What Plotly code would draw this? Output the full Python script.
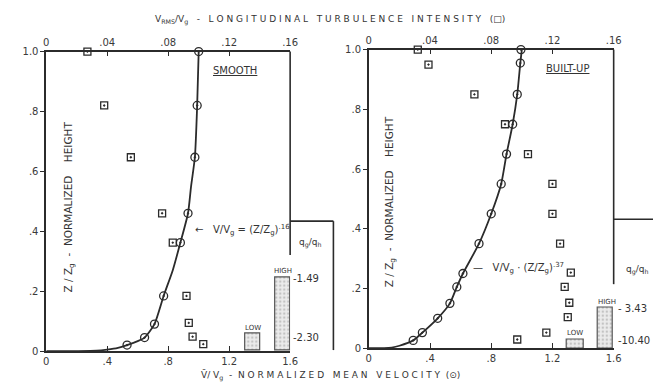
import plotly.graph_objects as go

W, H = 661, 390

# ---------------- data ----------------
# SMOOTH panel
smooth_vel_z = [1.0, 0.82, 0.647, 0.46, 0.362, 0.184, 0.09, 0.045, 0.02]
smooth_vel_v = [1.0, 0.99, 0.975, 0.93, 0.88, 0.77, 0.71, 0.645, 0.53]
smooth_turb_z = [1.0, 0.82, 0.647, 0.46, 0.362, 0.184, 0.094, 0.048, 0.023]
smooth_turb_t = [0.027, 0.038, 0.0555, 0.076, 0.083, 0.092, 0.0935, 0.096, 0.103]
smooth_curve_v = [0.0, 0.2, 0.33, 0.40, 0.47, 0.53, 0.60, 0.645, 0.71, 0.77, 0.83, 0.88, 0.93, 0.95, 0.975, 0.99, 1.0]
smooth_curve_z = [0.0, 0.0, 0.001, 0.005, 0.011, 0.02, 0.033, 0.045, 0.09, 0.184, 0.27, 0.362, 0.46, 0.55, 0.647, 0.82, 1.0]

# BUILT-UP panel
built_vel_z = [1.0, 0.955, 0.85, 0.75, 0.65, 0.55, 0.45, 0.35, 0.25, 0.205, 0.15, 0.10, 0.052, 0.026]
built_vel_v = [0.994, 0.99, 0.97, 0.94, 0.90, 0.865, 0.80, 0.72, 0.615, 0.575, 0.53, 0.45, 0.35, 0.29]
built_turb_z = [1.0, 0.95, 0.85, 0.75, 0.65, 0.55, 0.45, 0.35, 0.253, 0.205, 0.152, 0.104, 0.052, 0.029]
built_turb_t = [0.032, 0.039, 0.069, 0.089, 0.104, 0.12, 0.12, 0.125, 0.132, 0.128, 0.131, 0.130, 0.116, 0.097]
built_curve_v = [0.0, 0.1, 0.15, 0.2, 0.29, 0.35, 0.45, 0.53, 0.575, 0.615, 0.72, 0.80, 0.865, 0.90, 0.94, 0.97, 0.99, 1.0]
built_curve_z = [0.0, 0.0, 0.002, 0.008, 0.026, 0.052, 0.10, 0.15, 0.205, 0.25, 0.35, 0.45, 0.55, 0.65, 0.75, 0.85, 0.955, 1.0]

# q_g/q_h bars (LOW, HIGH): centre on velocity axis, width, height
bar_labels = ["LOW", "HIGH"]
smooth_bar_x = [1.355, 1.552]
smooth_bar_w = [0.103, 0.097]
smooth_bar_h = [0.058, 0.246]
built_bar_x = [1.35, 1.545]
built_bar_w = [0.11, 0.102]
built_bar_h = [0.029, 0.136]
smooth_bar_vals = ["-1.49", "-2.30"]
built_bar_vals = ["- 3.43", "-10.40"]

vel_ticks = [0, 0.4, 0.8, 1.2, 1.6]
vel_ticktext = ["0", ".4", ".8", "1.2", "1.6"]
turb_ticks = [0, 0.04, 0.08, 0.12, 0.16]
turb_ticktext = ["0", ".04", ".08", ".12", ".16"]
z_ticks = [0, 0.2, 0.4, 0.6, 0.8, 1.0]
z_ticktext = ["0", ".2", ".4", ".6", ".8", "1.0"]

# ---------------- layout helpers ----------------
INK = "#2b2b2b"
FONT = "DejaVu Sans"


def px(x):
    return x / W


def py(y):
    return 1 - y / H


L_dom_x = [px(44), px(292)]
L_dom_y = [py(356), py(47)]
R_dom_x = [px(372), px(621)]
R_dom_y = [py(353), py(45)]

fig = go.Figure()

circ = dict(symbol="circle-open-dot", size=8, color=INK, line=dict(width=1.3, color=INK))
sq = dict(symbol="square-open-dot", size=7, color=INK, line=dict(width=1.3, color=INK))

for (cv, cz, vv, vz, tt, tz, bx, bw, bh, xa, xt, ya) in [
    (smooth_curve_v, smooth_curve_z, smooth_vel_v, smooth_vel_z, smooth_turb_t, smooth_turb_z,
     smooth_bar_x, smooth_bar_w, smooth_bar_h, "x", "x2", "y"),
    (built_curve_v, built_curve_z, built_vel_v, built_vel_z, built_turb_t, built_turb_z,
     built_bar_x, built_bar_w, built_bar_h, "x3", "x4", "y2"),
]:
    fig.add_trace(go.Bar(x=bx, y=bh, width=bw, base=0, xaxis=xa, yaxis=ya,
                         marker=dict(color="#e4e4e4", line=dict(color="#555", width=1.2),
                                     pattern=dict(shape=".", fgcolor="#9a9a9a", bgcolor="#ececec",
                                                  size=4, solidity=0.3)),
                         showlegend=False, hoverinfo="skip"))
    fig.add_trace(go.Scatter(x=cv, y=cz, mode="lines", line=dict(color=INK, width=1.8, shape="spline", smoothing=0.6),
                             xaxis=xa, yaxis=ya, showlegend=False, cliponaxis=False))
    fig.add_trace(go.Scatter(x=vv, y=vz, mode="markers", marker=circ, xaxis=xa, yaxis=ya,
                             showlegend=False, cliponaxis=False))
    fig.add_trace(go.Scatter(x=tt, y=tz, mode="markers", marker=sq, xaxis=xt, yaxis=ya,
                             showlegend=False, cliponaxis=False))

tickfont = dict(family=FONT, size=10, color="#3a3a3a")
common_x = dict(range=[0, 1.6], tickmode="array", tickvals=vel_ticks, ticktext=vel_ticktext,
                ticks="inside", ticklen=5, tickcolor=INK, showline=True, linecolor=INK, linewidth=1.6,
                showgrid=False, zeroline=False, tickfont=tickfont, fixedrange=True)
common_xt = dict(range=[0, 0.16], tickmode="array", tickvals=turb_ticks, ticktext=turb_ticktext,
                 ticks="inside", ticklen=5, tickcolor=INK, showline=True, linecolor=INK, linewidth=1.6,
                 showgrid=False, zeroline=False, tickfont=tickfont, side="top")
common_y = dict(range=[0, 1.0], tickmode="array", tickvals=z_ticks, ticktext=z_ticktext,
                ticks="outside", ticklen=4, tickcolor=INK, showline=True, linecolor=INK, linewidth=1.6,
                showgrid=False, zeroline=False, tickfont=tickfont)

fig.update_layout(
    width=W, height=H, margin=dict(l=0, r=0, t=0, b=0),
    paper_bgcolor="white", plot_bgcolor="rgba(0,0,0,0)",
    barmode="overlay", bargap=0,
    xaxis=dict(domain=L_dom_x, anchor="y", **common_x),
    xaxis2=dict(overlaying="x", anchor="y", **common_xt),
    yaxis=dict(domain=L_dom_y, anchor="x", **common_y),
    xaxis3=dict(domain=R_dom_x, anchor="y2", **common_x),
    xaxis4=dict(overlaying="x3", anchor="y2", **common_xt),
    yaxis2=dict(domain=R_dom_y, anchor="x3", **common_y),
    font=dict(family=FONT, color=INK),
)

shapes = []


def seg(x0, y0, x1, y1, w=1.6):
    shapes.append(dict(type="line", xref="paper", yref="paper",
                       x0=px(x0), y0=py(y0), x1=px(x1), y1=py(y1),
                       line=dict(color=INK, width=w)))


# right frame edges (partial) and q_g/q_h side boxes
seg(292, 47, 292, 257)
seg(292, 222, 336, 222)
seg(336, 222, 336, 355)
seg(621, 45, 621, 287)
seg(621, 220, 661, 220)
fig.update_layout(shapes=shapes)

ann = []


def text(x, y, s, size=10, xanchor="center", angle=0, yanchor="middle"):
    ann.append(dict(xref="paper", yref="paper", x=px(x), y=py(y), text=s, showarrow=False,
                    xanchor=xanchor, yanchor=yanchor, textangle=angle,
                    font=dict(family=FONT, size=size, color="#333")))


text(333, 14, "V<sub>RMS</sub>/V<sub>g</sub>   -   L O N G I T U D I N A L   T U R B U L E N C E   I N T E N S I T Y   (□)", size=9)
text(333, 381, "V̄/ V<sub>g</sub>  -  N O R M A L I Z E D   M E A N   V E L O C I T Y  (⊙)", size=9)
text(67, 207, "Z / Z<sub>g</sub>  -  NORMALIZED    HEIGHT", size=10.5, angle=-90)
text(393, 202, "Z / Z<sub>g</sub>  -  NORMALIZED    HEIGHT", size=10.5, angle=-90)
text(236, 67, "<u>SMOOTH</u>", size=10)
text(574, 64, "<u>BUILT-UP</u>", size=10)
text(193, 231, "←   V/V<sub>g</sub> = (Z/Z<sub>g</sub>)<sup>.16</sup>", size=10, xanchor="left")
text(476, 270, "—   V/V<sub>g</sub> · (Z/Z<sub>g</sub>)<sup>.37</sup>", size=10, xanchor="left")
text(312, 245, "q<sub>g</sub>/q<sub>h</sub>", size=9)
text(645, 272, "q<sub>g</sub>/q<sub>h</sub>", size=9)
# bar labels
text(254, 332, bar_labels[0], size=7)
text(285, 273, bar_labels[1], size=7)
text(582, 337, bar_labels[0], size=7)
text(614, 305, bar_labels[1], size=7)
text(293, 281, smooth_bar_vals[0], size=10, xanchor="left")
text(293, 342, smooth_bar_vals[1], size=10, xanchor="left")
text(623, 312, built_bar_vals[0], size=10, xanchor="left")
text(623, 345, built_bar_vals[1], size=10, xanchor="left")
fig.update_layout(annotations=ann)

fig.write_html("out.html")
